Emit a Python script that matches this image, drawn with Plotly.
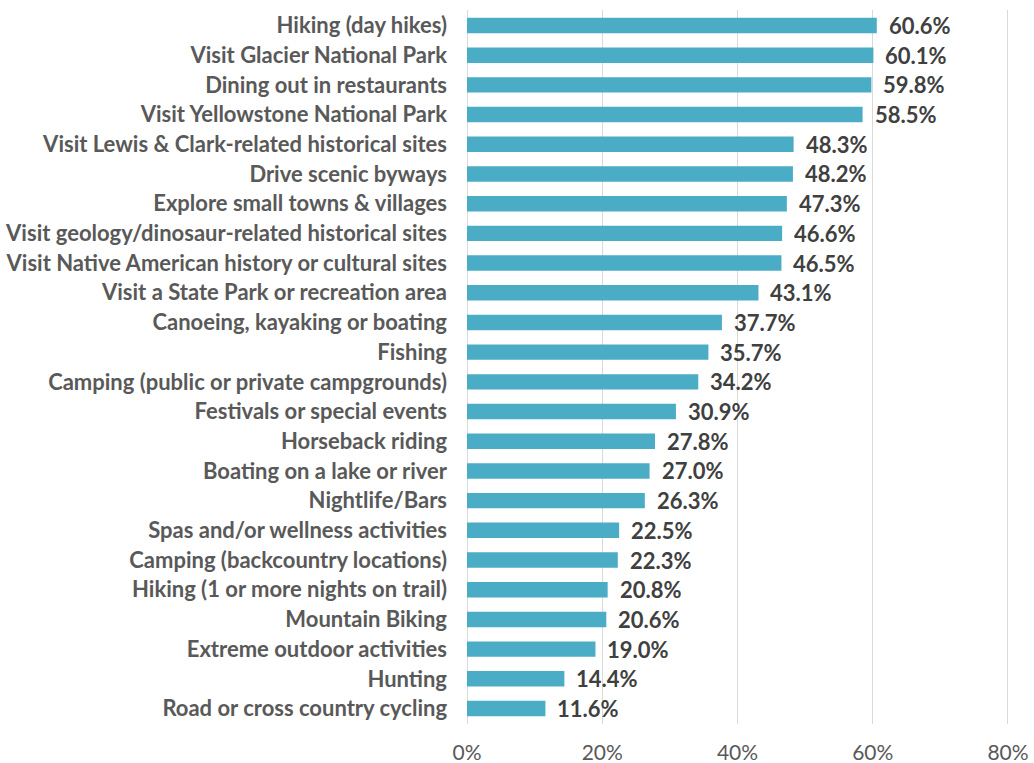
import plotly.graph_objects as go

# Activities, top to bottom, with share of respondents (%)
activities = [
    "Hiking (day hikes)",
    "Visit Glacier National Park",
    "Dining out in restaurants",
    "Visit Yellowstone National Park",
    "Visit Lewis & Clark-related historical sites",
    "Drive scenic byways",
    "Explore small towns & villages",
    "Visit geology/dinosaur-related historical sites",
    "Visit Native American history or cultural sites",
    "Visit a State Park or recreation area",
    "Canoeing, kayaking or boating",
    "Fishing",
    "Camping (public or private campgrounds)",
    "Festivals or special events",
    "Horseback riding",
    "Boating on a lake or river",
    "Nightlife/Bars",
    "Spas and/or wellness activities",
    "Camping (backcountry locations)",
    "Hiking (1 or more nights on trail)",
    "Mountain Biking",
    "Extreme outdoor activities",
    "Hunting",
    "Road or cross country cycling",
]
shares = [60.6, 60.1, 59.8, 58.5, 48.3, 48.2, 47.3, 46.6, 46.5, 43.1,
          37.7, 35.7, 34.2, 30.9, 27.8, 27.0, 26.3, 22.5, 22.3, 20.8,
          20.6, 19.0, 14.4, 11.6]
x_ticks = [0, 20, 40, 60, 80]
x_tick_labels = ["0%", "20%", "40%", "60%", "80%"]

BAR = "#4bacc6"
GRID = "#d9d9d9"
FONT = "Lato, 'Open Sans', sans-serif"

fig = go.Figure(
    go.Bar(
        x=shares,
        y=activities,
        orientation="h",
        marker=dict(color=BAR, line=dict(width=0)),
        hoverinfo="skip",
    )
)

# Value labels just right of each bar end
for name, v in zip(activities, shares):
    fig.add_annotation(
        x=v, y=name, text=f"<b>{v:.1f}%</b>",
        xanchor="left", yanchor="middle", xshift=10, showarrow=False,
        font=dict(family=FONT, size=22, color="#404040"),
    )

fig.update_layout(
    width=1034, height=763,
    margin=dict(l=467, r=24, t=10, b=39),
    paper_bgcolor="white", plot_bgcolor="white",
    bargap=0.48,
    showlegend=False,
    font=dict(family=FONT, color="#595959"),
)
fig.update_xaxes(
    range=[0, 80.3], tickvals=x_ticks, ticktext=x_tick_labels,
    automargin=False,
    showgrid=True, gridcolor=GRID, gridwidth=1,
    zeroline=True, zerolinecolor=GRID, zerolinewidth=1,
    showline=False, ticks="",
    tickfont=dict(family=FONT, size=21, color="#595959"),
    ticklabelstandoff=14,
)
fig.update_yaxes(
    categoryorder="array", categoryarray=activities, autorange="reversed",
    automargin=False,
    showgrid=False, zeroline=False, showline=False, ticks="",
    tickfont=dict(family=FONT, size=22, color="#595959", weight="bold"),
    ticklabelstandoff=19,
)

fig.write_html("out.html")
